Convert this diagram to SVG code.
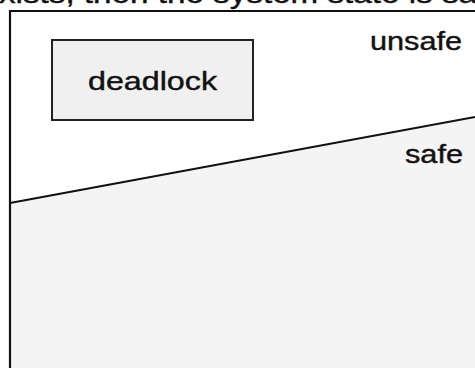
<svg xmlns="http://www.w3.org/2000/svg" width="475" height="368" viewBox="0 0 475 368">
<style>
.t{font-family:"Liberation Sans",Arial,sans-serif;fill:#111;stroke:#111;stroke-width:0.4;}
.ln{stroke:#111;stroke-width:2.2;fill:none;}
</style>
<rect x="0" y="0" width="475" height="368" fill="#fff"/>
<text class="t" x="-1" y="3" font-size="27" textLength="478" lengthAdjust="spacingAndGlyphs">xists, then the system state is sa</text>
<g id="regions">
<polygon points="10,203 475,117 475,368 10,368" fill="#f4f4f4"/>
</g>
<g id="connectors">
<path class="ln" d="M10,368 V11 H475"/>
<path class="ln" d="M10,203 L475,117"/>
</g>
<g id="deadlock">
<rect x="52" y="40" width="201" height="80" fill="#f0f0f0" stroke="#222" stroke-width="2"/>
<text class="t" x="88" y="90" font-size="25" textLength="129" lengthAdjust="spacingAndGlyphs">deadlock</text>
</g>
<g id="unsafe">
<text class="t" x="370" y="50" font-size="25" textLength="92" lengthAdjust="spacingAndGlyphs">unsafe</text>
</g>
<g id="safe">
<text class="t" x="405" y="163" font-size="25" textLength="58" lengthAdjust="spacingAndGlyphs">safe</text>
</g>
</svg>
